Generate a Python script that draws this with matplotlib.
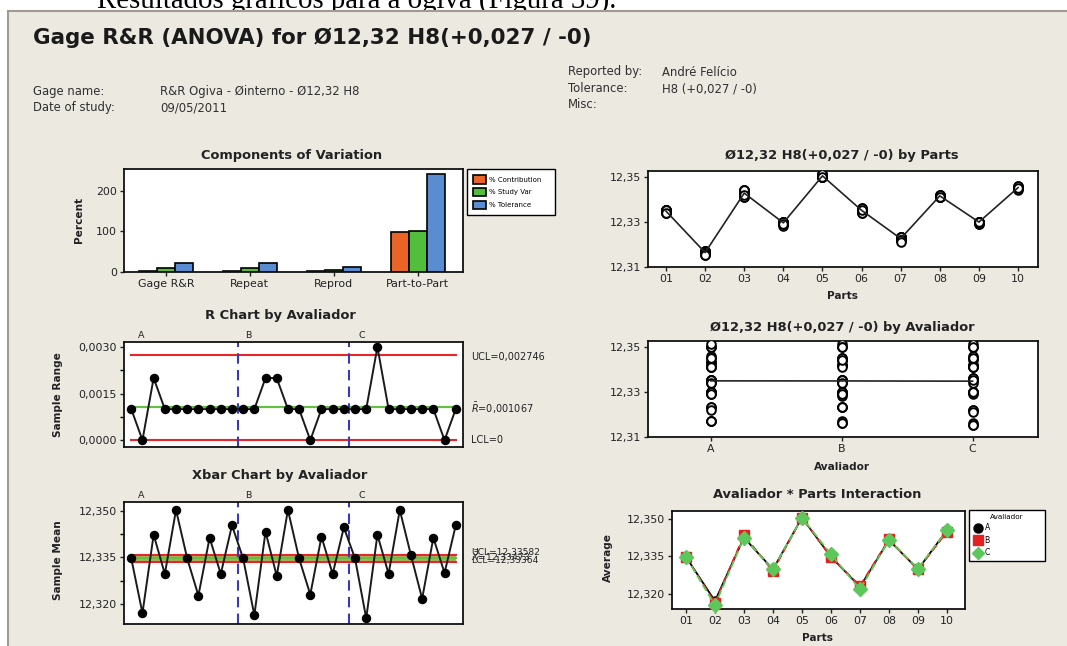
import numpy as np
import matplotlib
matplotlib.use("Agg")
import matplotlib.pyplot as plt
from matplotlib.patches import Rectangle
from matplotlib.lines import Line2D

plt.rcParams['font.family'] = ['DejaVu Sans']
plt.rcParams['mathtext.fontset'] = 'dejavusans'

W, H = 1067, 646
DPI = 100

# ---- data -------------------------------------------------------------
components = ["Gage R&R", "Repeat", "Reprod", "Part-to-Part"]
pct_contribution = [1.0, 0.9, 0.25, 99.0]
pct_study_var = [10.0, 9.5, 5.0, 99.5]
pct_tolerance = [22.0, 21.0, 12.0, 242.0]

parts = ["01", "02", "03", "04", "05", "06", "07", "08", "09", "10"]
appraisers = ["A", "B", "C"]

# three trials per part, one row per part
meas_A = [
    [12.335, 12.335, 12.334],
    [12.317, 12.317, 12.317],
    [12.343, 12.341, 12.343],
    [12.330, 12.330, 12.329],
    [12.350, 12.350, 12.351],
    [12.335, 12.335, 12.334],
    [12.323, 12.323, 12.322],
    [12.342, 12.341, 12.341],
    [12.330, 12.330, 12.329],
    [12.346, 12.345, 12.345],
]
meas_B = [
    [12.335, 12.335, 12.334],
    [12.317, 12.316, 12.316],
    [12.344, 12.342, 12.344],
    [12.330, 12.328, 12.329],
    [12.351, 12.350, 12.350],
    [12.335, 12.335, 12.334],
    [12.323, 12.323, 12.323],
    [12.342, 12.342, 12.341],
    [12.330, 12.330, 12.329],
    [12.345, 12.345, 12.344],
]
meas_C = [
    [12.335, 12.335, 12.334],
    [12.316, 12.315, 12.315],
    [12.341, 12.344, 12.342],
    [12.330, 12.330, 12.329],
    [12.350, 12.351, 12.350],
    [12.336, 12.336, 12.335],
    [12.322, 12.322, 12.321],
    [12.341, 12.342, 12.341],
    [12.330, 12.330, 12.330],
    [12.345, 12.346, 12.345],
]

# control limits
r_bar, r_ucl, r_lcl = 0.001067, 0.002746, 0.0
x_dbar, x_ucl, x_lcl = 12.33473, 12.33582, 12.33364

# ---- derived series ----------------------------------------------------
meas = np.array([meas_A, meas_B, meas_C])          # appraiser, part, trial
ranges = np.round(meas.max(axis=2) - meas.min(axis=2), 6).ravel()
means = meas.mean(axis=2).ravel()
part_means = meas.mean(axis=(0, 2))
appr_means = meas.mean(axis=(1, 2))
inter_means = meas.mean(axis=2)                     # appraiser x part

# ---- styling -----------------------------------------------------------
BG = "#ECE9E1"
ORANGE, GREEN, BLUE = "#EA6428", "#52BE3C", "#5A8CD2"
RED, LGREEN, DBLUE = "#E8262A", "#63C040", "#3A3AB8"
TXT = "#222222"
TICK_FS = 7.9
TITLE_FS = 9.4

fig = plt.figure(figsize=(W / DPI, H / DPI), dpi=DPI)
fig.patch.set_facecolor("white")


def fxy(x, y):
    return x / W, 1 - y / H


def add_ax(x0, y0, x1, y1):
    ax = fig.add_axes([x0 / W, 1 - y1 / H, (x1 - x0) / W, (y1 - y0) / H])
    ax.set_facecolor("white")
    for s in ax.spines.values():
        s.set_linewidth(1.3)
        s.set_color("#111111")
    ax.tick_params(labelsize=TICK_FS, colors=TXT, length=3, width=1.0,
                   direction="out", pad=2)
    return ax


def ftext(x, y, s, **kw):
    kw.setdefault("color", TXT)
    fig.text(*fxy(x, y), s, **kw)


def comma(v, nd):
    return f"{v:.{nd}f}".replace(".", ",")


# page caption above the report frame, partly hidden by the frame
ftext(97, 8, "Resultados gráficos para a ogiva (Figura 39).",
      family="Liberation Serif", fontsize=20.8, color="black",
      va="baseline", ha="left", zorder=-3)
fig.patches.append(Rectangle(fxy(8, H), (W - 8) / W, (H - 11) / H,
                             transform=fig.transFigure, facecolor=BG,
                             edgecolor="none", zorder=-2))
fig.lines.append(Line2D([8 / W, 1], [1 - 11 / H] * 2, transform=fig.transFigure,
                        color="#A09C94", lw=1.5, zorder=-1))
fig.lines.append(Line2D([8 / W] * 2, [1 - 11 / H, 0], transform=fig.transFigure,
                        color="#A09C94", lw=1.5, zorder=-1))

# ---- header ------------------------------------------------------------
ftext(33, 38, "Gage R&R (ANOVA) for Ø12,32 H8(+0,027 / -0)", fontsize=15.4,
      fontweight="bold", va="center", ha="left", color="#1a1a1a")
hdr = dict(fontsize=8.4, va="center", ha="left", color="#303030")
ftext(33, 92, "Gage name:", **hdr)
ftext(160, 92, "R&R Ogiva - Øinterno - Ø12,32 H8", **hdr)
ftext(33, 108, "Date of study:", **hdr)
ftext(160, 108, "09/05/2011", **hdr)
ftext(568, 72, "Reported by:", **hdr)
ftext(662, 72, "André Felício", **hdr)
ftext(568, 89, "Tolerance:", **hdr)
ftext(662, 89, "H8 (+0,027 / -0)", **hdr)
ftext(568, 105, "Misc:", **hdr)

ttl = dict(fontsize=TITLE_FS, fontweight="bold", ha="center", va="center")
lab = dict(fontsize=7.6, fontweight="bold", ha="center", va="center")

# ---- components of variation ------------------------------------------
ax = add_ax(124, 169, 463, 272)
xc = np.arange(1, len(components) + 1)
bw = 0.215
for off, vals, col, name in [(-bw, pct_contribution, ORANGE, "% Contribution"),
                             (0, pct_study_var, GREEN, "% Study Var"),
                             (bw, pct_tolerance, BLUE, "% Tolerance")]:
    ax.bar(xc + off, vals, bw, color=col, edgecolor="black", linewidth=1.2,
           label=name)
ax.set_xlim(0.5, 4.54)
ax.set_ylim(-1, 254)
ax.set_yticks([0, 100, 200])
ax.set_xticks(xc)
ax.set_xticklabels(components)
leg = ax.legend(loc="upper left", bbox_to_anchor=(1.012, 1.0, 0.26, 0.0),
                mode="expand", borderaxespad=0.0, fontsize=5,
                frameon=True, fancybox=False, edgecolor="black",
                facecolor="white", framealpha=1.0,
                handlelength=1.8, handleheight=1.5, borderpad=0.9,
                labelspacing=0.6, handletextpad=0.4)
leg.get_frame().set_linewidth(1.0)
ftext(292, 156, "Components of Variation", **ttl)
ftext(79, 220, "Percent", rotation=90, **lab)

# ---- R chart -------------------------------------------------------------
xs = np.arange(1, len(ranges) + 1)
ax = add_ax(124, 342, 463, 447)
ax.axhline(r_ucl, color=RED, lw=1.5, xmin=0.02, xmax=0.98)
ax.axhline(r_lcl, color=RED, lw=1.5, xmin=0.02, xmax=0.98)
ax.axhline(r_bar, color=LGREEN, lw=1.6, xmin=0.02, xmax=0.98)
for xv in (10.5, 20.5):
    ax.axvline(xv, color=DBLUE, lw=1.5, ls=(0, (5, 3)))
ax.plot(xs, ranges, color="#1a1a1a", lw=1.4, marker="o", ms=5.8,
        mfc="black", mec="black", zorder=5, clip_on=False)
ax.set_xlim(0.35, 30.65)
ax.set_ylim(-0.00022, 0.00316)
ax.set_yticks([0, 0.0015, 0.003])
ax.set_yticklabels([comma(v, 4) for v in [0, 0.0015, 0.003]])
ax.set_yticks([0.00075, 0.00225], minor=True)
ax.tick_params(axis="y", which="minor", length=3, width=1.0)
ax.set_xticks([])
for xv, g in zip((1.9, 11.5, 21.6), appraisers):
    ax.text(xv, 1.02, g, transform=ax.get_xaxis_transform(), fontsize=6.8,
            ha="center", va="bottom", color=TXT)
ftext(280, 315, "R Chart by Avaliador", **ttl)
ftext(58, 395, "Sample Range", rotation=90, **lab)
rl = dict(fontsize=7.0, ha="left", va="center", color=TXT)
ftext(471, 357, "UCL=" + comma(r_ucl, 6), **rl)
ftext(471, 408, r"$\bar{R}$=" + comma(r_bar, 6), **rl)
ftext(471, 440, "LCL=" + comma(r_lcl, 0), **rl)

# ---- Xbar chart ----------------------------------------------------------
ax = add_ax(124, 502, 463, 624)
ax.axhspan(x_lcl, x_ucl, xmin=0.02, xmax=0.98, color="#A8B060", lw=0)
ax.axhline(x_ucl, color=RED, lw=1.5, xmin=0.02, xmax=0.98)
ax.axhline(x_lcl, color=RED, lw=1.5, xmin=0.02, xmax=0.98)
ax.axhline(x_dbar, color=LGREEN, lw=1.6, xmin=0.02, xmax=0.98)
for xv in (10.5, 20.5):
    ax.axvline(xv, color=DBLUE, lw=1.5, ls=(0, (5, 3)))
ax.plot(xs, means, color="#1a1a1a", lw=1.4, marker="o", ms=5.8,
        mfc="black", mec="black", zorder=5, clip_on=False)
ax.set_xlim(0.35, 30.65)
ax.set_ylim(12.3135, 12.3529)
ax.set_yticks([12.320, 12.335, 12.350])
ax.set_yticklabels([comma(v, 3) for v in [12.320, 12.335, 12.350]])
ax.set_yticks([12.3275, 12.3425], minor=True)
ax.tick_params(axis="y", which="minor", length=3, width=1.0)
ax.set_xticks([])
for xv, g in zip((1.9, 11.5, 21.6), appraisers):
    ax.text(xv, 1.02, g, transform=ax.get_xaxis_transform(), fontsize=6.8,
            ha="center", va="bottom", color=TXT)
ftext(280, 476, "Xbar Chart by Avaliador", **ttl)
ftext(58, 560, "Sample Mean", rotation=90, **lab)
xl = dict(fontsize=6.6, ha="left", va="center", color=TXT)
ftext(471, 553, "UCL=" + comma(x_ucl, 5), **xl)
ftext(471, 556, r"$\bar{\bar{X}}$=" + comma(x_dbar, 5), **xl)
ftext(471, 560, "LCL=" + comma(x_lcl, 5), **xl)

# ---- by parts --------------------------------------------------------------
px = np.arange(1, len(parts) + 1)
ax = add_ax(648, 171, 1038, 267)
for a in range(3):
    for t in range(3):
        ax.plot(px, meas[a, :, t], ls="none", marker="o", ms=6.2, mfc="white",
                mec="black", mew=1.4, zorder=3)
ax.plot(px, part_means, color="#222222", lw=1.2, zorder=4)
ax.set_xlim(0.54, 10.51)
ax.set_ylim(12.3098, 12.3525)
ax.set_yticks([12.31, 12.33, 12.35])
ax.set_yticklabels([comma(v, 2) for v in [12.31, 12.33, 12.35]])
ax.set_xticks(px)
ax.set_xticklabels(parts)
ftext(842, 156, "Ø12,32 H8(+0,027 / -0) by Parts", **ttl)
ftext(842, 296, "Parts", **lab)

# ---- by appraiser ---------------------------------------------------------
axp = np.arange(1, len(appraisers) + 1)
ax = add_ax(648, 341, 1038, 437)
for a in range(3):
    vals = meas[a].ravel()
    ax.plot(np.full(vals.size, axp[a]), vals, ls="none", marker="o", ms=6.2,
            mfc="white", mec="black", mew=1.4, zorder=3)
ax.plot(axp, appr_means, color="#222222", lw=1.2, zorder=4)
ax.set_xlim(0.52, 3.5)
ax.set_ylim(12.3098, 12.3525)
ax.set_yticks([12.31, 12.33, 12.35])
ax.set_yticklabels([comma(v, 2) for v in [12.31, 12.33, 12.35]])
ax.set_xticks(axp)
ax.set_xticklabels(appraisers)
ftext(842, 327, "Ø12,32 H8(+0,027 / -0) by Avaliador", **ttl)
ftext(842, 467, "Avaliador", **lab)

# ---- interaction -------------------------------------------------------------
ax = add_ax(672, 511, 965, 609)
styles = [dict(color="black", marker="o", ls="-", ms=6.5),
          dict(color="#E52020", marker="s", ls=(0, (4, 2)), ms=6.5),
          dict(color="#5CC85C", marker="D", ls=(0, (4, 2)), ms=7)]
handles = []
for a, st in enumerate(styles):
    ax.plot(px, inter_means[a], lw=1.3, mec=st["color"], mfc=st["color"],
            zorder=3 + a, clip_on=False, **st)
    handles.append(Line2D([], [], ls="none", marker=st["marker"],
                          color=st["color"], ms=6.5, label=appraisers[a]))
ax.set_xlim(0.52, 10.62)
ax.set_ylim(12.3138, 12.353)
ax.set_yticks([12.320, 12.335, 12.350])
ax.set_yticklabels([comma(v, 3) for v in [12.320, 12.335, 12.350]])
ax.set_xticks(px)
ax.set_xticklabels(parts)
leg = ax.legend(handles=handles, title="Avaliador", loc="upper left",
                bbox_to_anchor=(1.0137, 1.01, 0.259, 0.0), mode="expand",
                borderaxespad=0.0, fontsize=5.6, title_fontsize=5.2,
                frameon=True, fancybox=False, edgecolor="black",
                facecolor="white", framealpha=1.0,
                borderpad=0.5, labelspacing=0.45, handletextpad=0.3,
                handlelength=1.2)
leg.get_frame().set_linewidth(1.0)
ftext(817, 495, "Avaliador * Parts Interaction", **ttl)
ftext(817, 638, "Parts", **lab)
ftext(608, 558, "Average", rotation=90, **lab)

fig.savefig("out.png", dpi=DPI, facecolor=fig.get_facecolor())
